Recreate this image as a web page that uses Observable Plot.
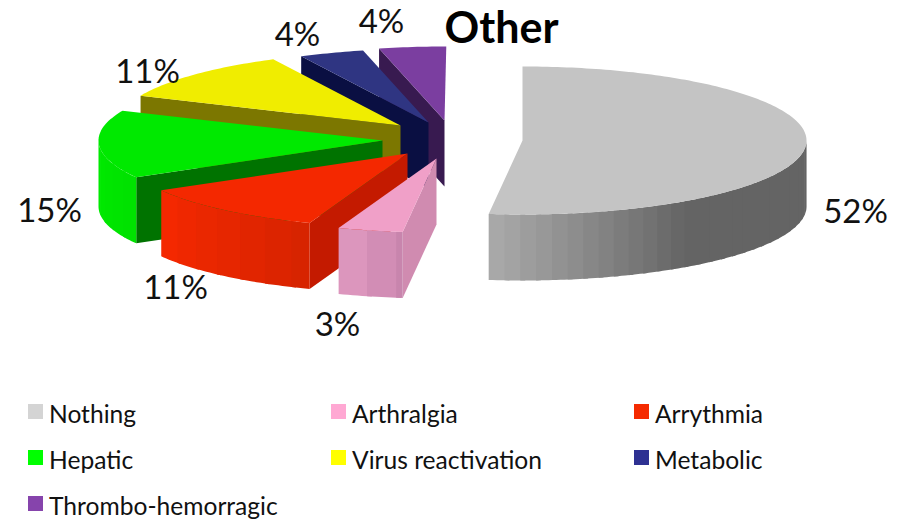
<!DOCTYPE html>
<html>
<head>
<meta charset="utf-8">
<script src="https://cdn.jsdelivr.net/npm/d3@7"></script>
<script src="https://cdn.jsdelivr.net/npm/@observablehq/plot@0.6"></script>
<style>
html,body{margin:0;padding:0;background:#fff;width:899px;height:525px;overflow:hidden;font-family:Lato,sans-serif}
#chart svg{display:block}
#legend{display:grid;grid-template-columns:303px 303px 260px;grid-auto-rows:46px;padding-left:28px;margin-top:0}
.item{display:flex;align-items:flex-start;font-size:24.6px;line-height:26px;color:#111;white-space:nowrap}
.item span:last-child{padding-top:1px}
.swatch{width:15px;height:15px;margin:4px 6px 0 0;flex:none}
</style>
</head>
<body>
<div id="chart"></div>
<div id="legend"></div>
<script>
// Data
const categories = ["Nothing","Arthralgia","Arrythmia","Hepatic","Virus reactivation","Metabolic","Thrombo-hemorragic"];
const shares = [51.9,3.7,11.1,14.9,11.0,3.7,3.8];   // slice sizes in percent, as drawn
const labels = ["52%","3%","11%","15%","11%","4%","4%"];
const legendColors = ["#d4d4d4","#ffa8d3","#f52a00","#00ff00","#ffff00","#2e3192","#8644ac"];

// Styling of the faces
const topColors  = ["#c4c4c4","#f0a0c8","#f42800","#00e900","#f0ed00","#2f3582","#7b3ea0"];
const cutColors  = ["#646464","#d08bb0","#c41a00","#007300","#7c7700","#0a0f42","#381a50"];
const wallLight  = ["#a8a8a8","#dc96bd","#f42800","#00ea00","#7c7700","#0a0f42","#381a50"];
const wallDark   = ["#646464","#c683ab","#d42300","#00e000","#7c7700","#0a0f42","#381a50"];
const wallSpan   = [40,13.3,40,30,40,14,14];

// Layout of the exploded 3D pie, in chart pixels
const apexX = [522,436,407,382,400,428,444];
const apexY = [140,158,153,140,125,122,120];
const labelX = [855,337,175,49,147,297,381];
const labelY = [212,325,288,211,72,35,22];
const radiusX = 284, radiusY = 74, depth = 66;
const W = 899, H = 381;

const rad = d => d * Math.PI / 180;
const ends = d3.cumsum(shares).map(v => v * 3.6);
const starts = ends.map((e, i) => i ? ends[i - 1] : 0);
const rim = (i, a) => [apexX[i] + radiusX * Math.sin(rad(a)), apexY[i] - radiusY * Math.cos(rad(a))];

let rows = [], nextId = 0;
function face(points, fill) {
  const id = nextId++;
  for (const [x, y] of points) rows.push({id, x, y, fill});
}
function arc(i, a0, a1, dy = 0) {
  const n = Math.max(2, Math.ceil(Math.abs(a1 - a0) / 1));
  return d3.range(n + 1).map(k => {
    const [x, y] = rim(i, a0 + (a1 - a0) * k / n);
    return [x, y + dy];
  });
}
// Back to front: the last slices sit behind, the first one is on top
const order = [6,5,4,3,2,1,0];
for (const i of order) {
  const s = starts[i], e = ends[i];
  // cut wall along the slice's starting edge
  if (s > 0) {
    const [rx, ry] = rim(i, s);
    face([[rx, ry], [apexX[i], apexY[i]], [apexX[i], apexY[i] + depth], [rx, ry + depth]], cutColors[i]);
  }
  // outer wall on the front half of the ellipse: shaded bands, each one
  // running under the next so that no seam shows between them
  const hi = Math.min(e, 270), lo = Math.max(s, 90);
  const step = i === 0 ? 3.2 : 6;
  const tint = d3.interpolateRgb(wallLight[i], wallDark[i]);
  for (let a = hi; a > lo + 0.01; a -= step) {
    const b = Math.max(lo, a - step - 1);
    const t = Math.min(1, (hi - a) / wallSpan[i]);
    face([...arc(i, a, b), ...arc(i, b, a, depth)], tint(t));
  }
  // top face
  face([[apexX[i], apexY[i]], ...arc(i, s, e)], topColors[i]);
}

const texts = labels.map((t, i) => ({t, x: labelX[i], y: labelY[i]}));

const plot = Plot.plot({
  width: W, height: H,
  margin: 0,
  x: {domain: [0, W], range: [0, W], axis: null},
  y: {domain: [0, H], range: [0, H], axis: null},
  color: {type: "identity"},
  style: {background: "#fff", fontFamily: "Lato, sans-serif"},
  marks: [
    Plot.line(rows, {x: "x", y: "y", z: "id", fill: "fill", stroke: "none", curve: "linear"}),
    Plot.text(texts, {x: "x", y: "y", text: "t", fontSize: 33, fill: "#111", textAnchor: "middle", lineAnchor: "middle"}),
    Plot.text(["Other"], {x: () => 501, y: () => 29, text: d => d, fontSize: 43, fontWeight: 700, fill: "#000", textAnchor: "middle", lineAnchor: "middle"})
  ]
});
document.getElementById("chart").append(plot);

const legend = d3.select("#legend");
categories.forEach((c, i) => {
  const item = legend.append("div").attr("class", "item");
  item.append("span").attr("class", "swatch").style("background", legendColors[i]);
  item.append("span").text(c);
});
legend.style("margin-top", (404 - 4 - H) + "px");
</script>
</body>
</html>
